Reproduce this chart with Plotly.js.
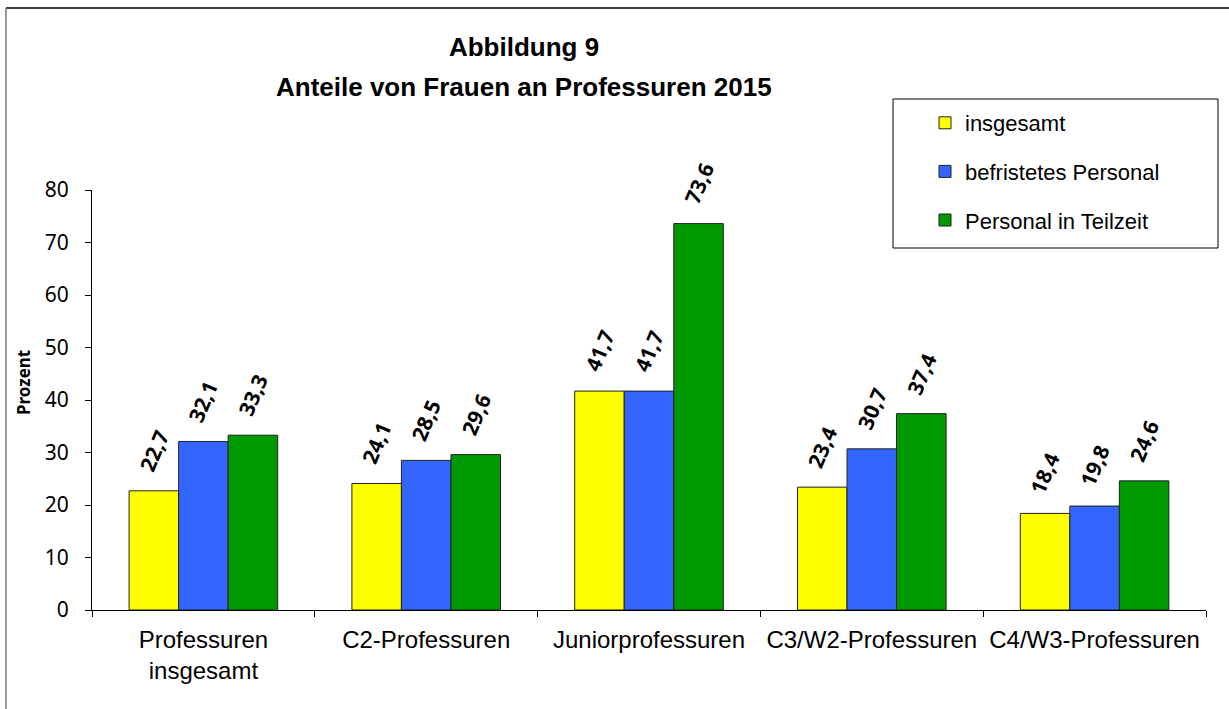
<!DOCTYPE html>
<html>
<head>
<meta charset="utf-8">
<script src="https://cdn.plot.ly/plotly-3.0.1.min.js"></script>
<style>html,body{margin:0;padding:0;background:#fff;}#chart{width:1229px;height:709px;}</style>
</head>
<body>
<div id="chart"></div>
<script>
const categories = ["Professuren<br>insgesamt", "C2-Professuren", "Juniorprofessuren", "C3/W2-Professuren", "C4/W3-Professuren"];
const seriesNames = ["insgesamt", "befristetes Personal", "Personal in Teilzeit"];
const insgesamt = [22.7, 24.1, 41.7, 23.4, 18.4];
const befristet = [32.1, 28.5, 41.7, 30.7, 19.8];
const teilzeit = [33.3, 29.6, 73.6, 37.4, 24.6];
const yTicks = [0, 10, 20, 30, 40, 50, 60, 70, 80];

const seriesValues = [insgesamt, befristet, teilzeit];
const colors = ["#FFFF00", "#3366FF", "#009900"];
const fmt = v => v.toFixed(1).replace(".", ",");

const traces = seriesValues.map((vals, i) => ({
  type: "bar",
  name: seriesNames[i],
  x: categories,
  y: vals,
  marker: {color: colors[i], line: {color: "#222", width: 1}},
  legendgroup: "g" + i,
  hoverinfo: "skip"
}));

const L = 92, R = 1206, T = 190, B = 610;
const px = x => (x - L) / (R - L);
const py = y => (B - y) / (B - T);

const groupShift = [-49.5, 0, 49.5];
const annotations = [];
seriesValues.forEach((vals, i) => {
  vals.forEach((v, j) => {
    annotations.push({
      x: categories[j], y: v, xref: "x", yref: "y",
      text: "<b>" + fmt(v) + "</b>",
      showarrow: false, textangle: -67,
      xanchor: "center", yanchor: "middle",
      xshift: groupShift[i], yshift: 40,
      font: {family: "Noto Sans, Open Sans, sans-serif", size: 21, color: "#000"}
    });
  });
});
annotations.push({
  xref: "paper", yref: "paper", x: px(524), y: py(87),
  xanchor: "center", yanchor: "middle", showarrow: false,
  text: "<b>Anteile von Frauen an Professuren 2015</b>",
  font: {family: "Liberation Sans, Arial, sans-serif", size: 26, color: "#000"}
});
annotations.push({
  xref: "paper", yref: "paper", x: px(23), y: py(383),
  xanchor: "center", yanchor: "middle", showarrow: false, textangle: -90,
  text: "<b>Prozent</b>",
  font: {family: "Noto Sans, Open Sans, sans-serif", size: 17, color: "#000"}
});

const layout = {
  width: 1229, height: 709,
  margin: {l: L, r: 1229 - R, t: T, b: 709 - B},
  paper_bgcolor: "#fff", plot_bgcolor: "#fff",
  showlegend: true,
  title: {
    text: "<b>Abbildung 9</b>",
    x: 0.4264, xref: "container", xanchor: "center",
    y: 1 - 47/709, yref: "container", yanchor: "middle",
    font: {family: "Liberation Sans, Arial, sans-serif", size: 26, color: "#000"}
  },
  barmode: "group", bargap: 0.333, bargroupgap: 0,
  xaxis: {
    type: "category",
    showline: true, linecolor: "#000", linewidth: 1,
    ticks: "outside", tickson: "boundaries", ticklen: 6, tickcolor: "#000",
    ticklabelstandoff: 8,
    tickfont: {family: "Liberation Sans, Arial, sans-serif", size: 24, color: "#000"},
    showgrid: false, zeroline: false, fixedrange: true
  },
  yaxis: {
    range: [0, 80], tickvals: yTicks, ticktext: yTicks.map(String),
    showline: true, linecolor: "#000", linewidth: 1,
    ticks: "outside", ticklen: 6, tickcolor: "#000",
    ticklabelstandoff: 12,
    tickfont: {family: "Noto Sans, Open Sans, sans-serif", size: 21, color: "#000"},
    showgrid: false, zeroline: false, fixedrange: true
  },
  legend: {
    x: px(925), xanchor: "left", y: py(102), yanchor: "top",
    xref: "paper", yref: "paper",
    bgcolor: "rgba(0,0,0,0)", borderwidth: 0,
    tracegroupgap: 17, itemclick: false, itemdoubleclick: false,
    font: {family: "Liberation Sans, Arial, sans-serif", size: 22, color: "#000"}
  },
  shapes: [
    {type: "rect", xref: "paper", yref: "paper", x0: px(893), x1: px(1218), y0: py(248), y1: py(99),
     line: {color: "#000", width: 1}, fillcolor: "rgba(0,0,0,0)", layer: "below"},
    {type: "line", xref: "paper", yref: "paper", x0: px(6), x1: px(1229), y0: py(8), y1: py(8),
     line: {color: "#000", width: 1.5}},
    {type: "line", xref: "paper", yref: "paper", x0: px(6), x1: px(6), y0: py(8), y1: py(709),
     line: {color: "#777", width: 1.5}}
  ],
  annotations: annotations
};

Plotly.newPlot("chart", traces, layout, {displayModeBar: false, staticPlot: true});
</script>
</body>
</html>
